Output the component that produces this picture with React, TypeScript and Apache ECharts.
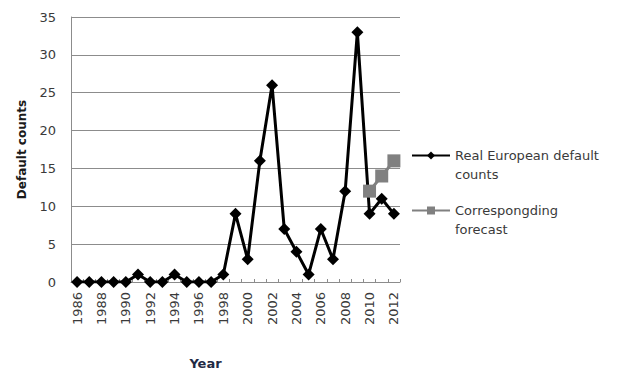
import React, { useEffect, useRef } from "react";
import * as echarts from "echarts";

const years: string[] = [
  "1986", "1987", "1988", "1989", "1990", "1991", "1992", "1993", "1994",
  "1995", "1996", "1997", "1998", "1999", "2000", "2001", "2002", "2003",
  "2004", "2005", "2006", "2007", "2008", "2009", "2010", "2011", "2012",
];

const realDefaults: number[] = [
  0, 0, 0, 0, 0, 1, 0, 0, 1, 0, 0, 0, 1, 9, 3, 16, 26, 7, 4, 1, 7, 3, 12, 33, 9, 11, 9,
];

// forecast only covers the last three years
const forecast: (number | null)[] = [
  null, null, null, null, null, null, null, null, null, null, null, null, null, null,
  null, null, null, null, null, null, null, null, null, null, 12, 14, 16,
];

const realName = "Real European default\ncounts";
const forecastName = "Correspongding\nforecast";

const FONT = "'DejaVu Sans', 'Open Sans', sans-serif";
const LABEL = "#3a3a3a";

export default function App() {
  const ref = useRef<HTMLDivElement>(null);

  useEffect(() => {
    document.body.style.margin = "0";
    document.body.style.overflow = "hidden";
    if (!ref.current) return;
    const chart = echarts.init(ref.current, null, { renderer: "svg" });
    chart.setOption({
      animation: false,
      backgroundColor: "#ffffff",
      textStyle: { fontFamily: FONT },
      grid: {
        left: 71,
        right: 229,
        top: 17,
        bottom: 89,
        containLabel: false,
        outerBoundsMode: "none",
      },
      legend: {
        orient: "vertical",
        left: 411,
        top: 127,
        padding: 0,
        itemWidth: 38,
        itemHeight: 10,
        itemGap: -2,
        // a blank leading line keeps the marker level with the first text line
        formatter: (name: string) => "\n" + name,
        textStyle: {
          fontFamily: FONT,
          fontSize: 13,
          color: LABEL,
          lineHeight: 19,
        },
        data: [realName, forecastName],
      },
      xAxis: {
        type: "category",
        data: years,
        boundaryGap: true,
        name: "Year",
        nameLocation: "middle",
        nameGap: 75,
        nameTextStyle: {
          fontFamily: FONT,
          fontSize: 13,
          fontWeight: "bold",
          color: "#1f2a44",
          padding: [0, 60, 0, 0],
        },
        axisLine: { lineStyle: { color: "#8c8c8c", width: 1 } },
        axisTick: { show: true, inside: true, length: 3, interval: 0, lineStyle: { color: "#8c8c8c" } },
        axisLabel: {
          interval: 1,
          rotate: 90,
          margin: 10,
          fontSize: 13,
          color: LABEL,
          fontFamily: FONT,
        },
        splitLine: { show: false },
      },
      yAxis: {
        type: "value",
        min: 0,
        max: 35,
        interval: 5,
        name: "Default counts",
        nameLocation: "middle",
        nameRotate: 90,
        nameGap: 43,
        nameTextStyle: { fontFamily: FONT, fontSize: 12, fontWeight: "bold", color: "#1a1a1a" },
        axisLine: { show: true, lineStyle: { color: "#8c8c8c", width: 1 } },
        axisTick: { show: false },
        axisLabel: { margin: 15, fontSize: 13, color: LABEL, fontFamily: FONT },
        splitLine: { show: true, lineStyle: { color: "#8c8c8c", width: 1 } },
      },
      series: [
        {
          name: realName,
          type: "line",
          data: realDefaults,
          symbol: "diamond",
          symbolSize: 12,
          showAllSymbol: true,
          lineStyle: { color: "#000000", width: 3 },
          itemStyle: { color: "#000000" },
          z: 3,
        },
        {
          name: forecastName,
          type: "line",
          data: forecast,
          symbol: "rect",
          symbolSize: 13,
          showAllSymbol: true,
          lineStyle: { color: "#808080", width: 3 },
          itemStyle: { color: "#808080" },
          z: 4,
        },
      ],
    });
    return () => chart.dispose();
  }, []);

  return <div ref={ref} style={{ width: 629, height: 371 }} />;
}
